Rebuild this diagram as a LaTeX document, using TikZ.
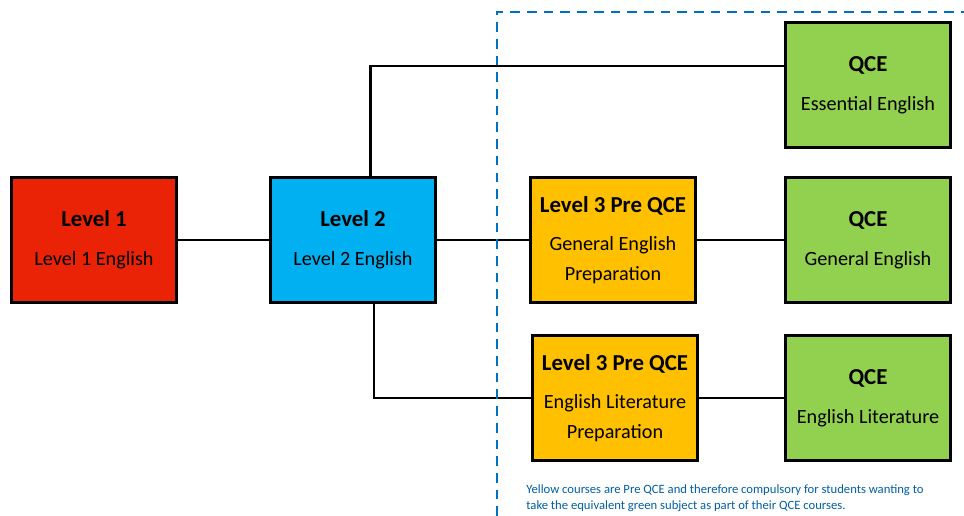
\documentclass[tikz,border=0pt]{standalone}
\usepackage{fontspec}
\setmainfont{Carlito}
\usetikzlibrary{positioning}

\definecolor{lvred}{RGB}{234,34,6}
\definecolor{lvblue}{RGB}{0,176,240}
\definecolor{lvyellow}{RGB}{255,192,0}
\definecolor{lvgreen}{RGB}{146,208,80}
\definecolor{dashblue}{RGB}{0,112,192}

\tikzset{
  course/.style={draw=black, line width=1.7pt, minimum width=3.3cm, minimum height=2.5cm,
    align=center, inner sep=2pt, font=\fontsize{11.5}{17}\selectfont},
  link/.style={line width=1.4pt}
}

\newcommand{\ctitle}[1]{{\fontsize{13}{14}\selectfont\bfseries #1}\\[5pt]}

\begin{document}
\begin{tikzpicture}[x=0.02cm, y=-0.02cm]
  \useasboundingbox (0,0) rectangle (964,516);

  % left side
  \node[course, fill=lvred] (lvone) at (94,240) {\ctitle{Level 1}Level 1 English};
  \node[course, fill=lvblue] (lvtwo) at (353,240) {\ctitle{Level 2}Level 2 English};

  % pre qce
  \node[course, fill=lvyellow] (genprep) at (613,240)
    {\ctitle{Level 3 Pre QCE}General English\\Preparation};
  \node[course, fill=lvyellow] (litprep) at (615,398)
    {\ctitle{Level 3 Pre QCE}English Literature\\Preparation};

  % qce
  \node[course, fill=lvgreen] (ess) at (868,85) {\ctitle{QCE}Essential English};
  \node[course, fill=lvgreen] (gen) at (868,240) {\ctitle{QCE}General English};
  \node[course, fill=lvgreen] (lit) at (868,398) {\ctitle{QCE}English Literature};

  % connectors
  \draw[link] (lvone) -- (lvtwo);
  \draw[link] (lvtwo) -- (genprep);
  \draw[link] (genprep) -- (gen);
  \draw[link] ([xshift=10pt]lvtwo.north) |- ([yshift=10.8pt]ess.west);
  \draw[link] ([xshift=12pt]lvtwo.south) |- (litprep.west);
  \draw[link] (litprep.east) -- (lit.west);

  % dashed frame
  \coordinate (frame) at (497,12);
  \draw[dashblue, line width=1.6pt, dash pattern=on 5.5pt off 4pt]
    (frame |- 0,516) -- (frame) -- (964,12);

  \node[anchor=north west, align=left, text=dashblue!85!black, inner sep=0pt,
    font=\fontsize{7.2}{9.6}\selectfont] (note) at (526,484)
    {Yellow courses are Pre QCE and therefore compulsory for students wanting to\\
     take the equivalent green subject as part of their QCE courses.};
\end{tikzpicture}
\end{document}
